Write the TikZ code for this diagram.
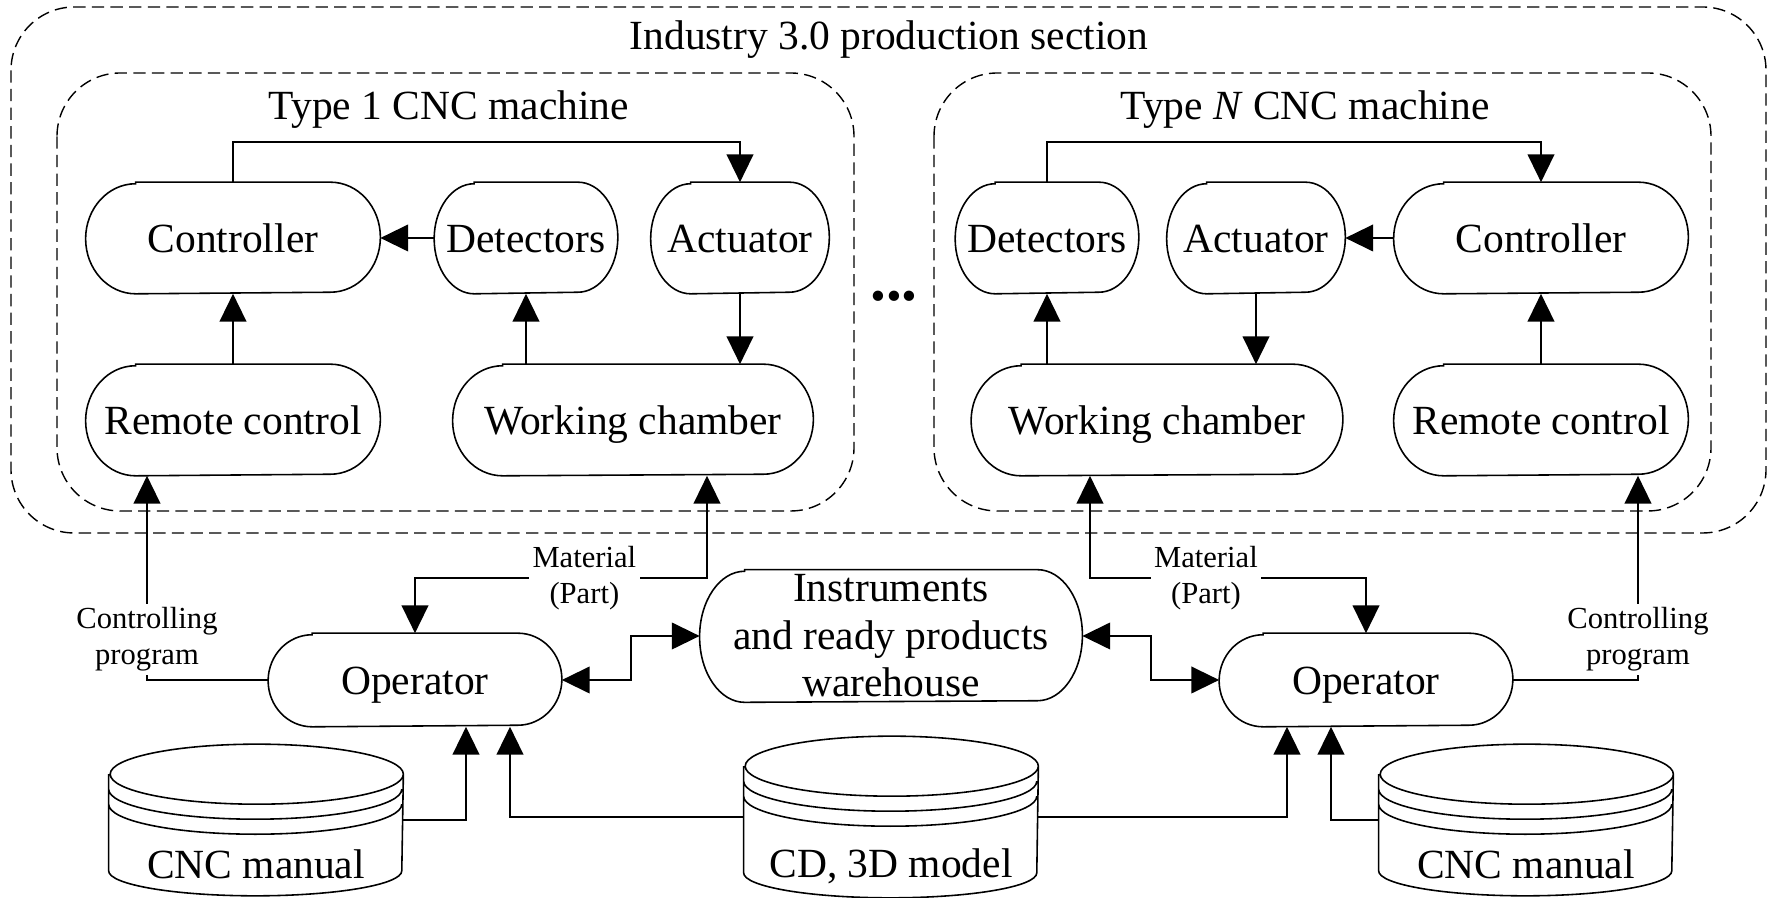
\documentclass[tikz,border=0pt]{standalone}
\usepackage{fontspec}
\setmainfont{Liberation Serif}
\usetikzlibrary{arrows.meta,calc}

\begin{document}
\begin{tikzpicture}[x=0.01cm,y=-0.01cm,line width=0.45pt,
    >={Triangle[length=7.9pt,width=7.6pt]},
    pill/.style={minimum height=1.1cm,inner sep=0pt,align=center,text height=8.1pt,text depth=0.1pt,font=\fontsize{11.8}{13.5}\selectfont},
    title/.style={inner sep=1pt,font=\fontsize{11.8}{13.5}\selectfont},
    small/.style={fill=white,inner sep=1pt,align=center,font=\fontsize{8.7}{10.2}\selectfont},
    disk/.style={minimum width=2.93cm,inner sep=0pt},
    frame/.style={draw,dash pattern=on 3.5pt off 1.8pt,rounded corners=18pt,line width=0.4pt}]
    \useasboundingbox (0,0) rectangle (1769,898);
    \draw[frame] (11,7) rectangle (1766,533);
    \draw[frame] (57,73) rectangle (854,511);
    \draw[frame] (934,73) rectangle (1711,511);
    \node[title] (sec) at (889,40) {Industry 3.0 production section};
    \node[title] (type1) at (449,110) {Type 1 CNC machine};
    \node[title] (typen) at (1305,110) {Type \textit{N} CNC machine};
    \node[inner sep=0pt,font=\fontsize{18}{18}\selectfont\bfseries] (dots) at (894,296) {...};

    \node[pill,minimum width=2.93cm] (ctl1) at (233,238) {Controller};
    \node[pill,minimum width=1.82cm] (det1) at (526,238) {Detectors};
    \node[pill,minimum width=1.77cm] (act1) at (740,238) {Actuator};
    \node[pill,minimum width=2.93cm] (rc1) at (233,420) {Remote control};
    \node[pill,minimum width=3.59cm] (wc1) at (633,420) {Working chamber};

    \node[pill,minimum width=1.82cm] (det2) at (1047,238) {Detectors};
    \node[pill,minimum width=1.77cm] (act2) at (1256,238) {Actuator};
    \node[pill,minimum width=2.93cm] (ctl2) at (1541,238) {Controller};
    \node[pill,minimum width=3.7cm] (wc2) at (1157,420) {Working chamber};
    \node[pill,minimum width=2.93cm] (rc2) at (1541,420) {Remote control};

    \node[pill,minimum width=2.92cm,minimum height=.92cm] (op1) at (415,680) {Operator};
    \node[pill,minimum width=2.92cm,minimum height=.92cm] (op2) at (1366,680) {Operator};
    \node[pill,minimum width=3.81cm,minimum height=1.31cm,text height=,text depth=] (wh) at (891,636) {Instruments\\and ready products\\warehouse};

    \foreach \n/\r/\a in {ctl1/.55/5,det1/.55/4,act1/.55/4,rc1/.55/5,wc1/.55/5,
        det2/.55/4,act2/.55/4,ctl2/.55/5,wc2/.55/5,rc2/.55/5,op1/.46/4.4,op2/.46/4.4,wh/.655/4.5}
        \draw ([xshift=\a mm]\n.north west) -- ([xshift=-\a mm]\n.north east)
            arc[start angle=90,end angle=-90,x radius=\a mm,y radius=\r cm]
            -- ([xshift=\a mm]\n.south west)
            arc[start angle=270,end angle=90,x radius=\a mm,y radius=\r cm] -- cycle;

    \node[disk,minimum height=1.5cm] (man1) at (256,820) {};
    \node[disk,minimum height=1.6cm] (cd) at (891,817) {};
    \node[disk,minimum height=1.5cm] (man2) at (1526,820) {};
    \foreach \c in {man1,cd,man2}
        \draw ([yshift=-.3cm]\c.north west) -- ([yshift=.25cm]\c.south west)
            arc[start angle=180,end angle=360,x radius=1.465cm,y radius=.25cm]
            -- ([yshift=-.3cm]\c.north east)
            arc[start angle=0,end angle=360,x radius=1.465cm,y radius=.3cm]
            ([yshift=-.45cm]\c.north west) arc[start angle=180,end angle=360,x radius=1.465cm,y radius=.3cm]
            ([yshift=-.6cm]\c.north west) arc[start angle=180,end angle=360,x radius=1.465cm,y radius=.3cm];
    \node[title] (man1t) at (256,864) {CNC manual};
    \node[title] (cdt) at (891,866) {CD, 3D model};
    \node[title] (man2t) at (1526,864) {CNC manual};

    \draw[->] (ctl1.north) -- ++(0,-40) -| (act1.north);
    \draw[->] (det1.west) -- (ctl1.east);
    \draw[->] (rc1.north) -- (ctl1.south);
    \draw[->] (wc1.north -| det1) -- (det1.south);
    \draw[->] (act1.south) -- (act1 |- wc1.north);

    \draw[->] (det2.north) -- ++(0,-40) -| (ctl2.north);
    \draw[->] (ctl2.west) -- (act2.east);
    \draw[->] (rc2.north) -- (ctl2.south);
    \draw[->] (wc2.north -| det2) -- (det2.south);
    \draw[->] (act2.south) -- (act2 |- wc2.north);

    \draw[->] (op1.west) -| node[small,pos=.6] (cp1) {Controlling\\program} ($(rc1.south)+(-86,0)$);
    \draw[->] (op2.east) -| node[small,pos=.6] (cp2) {Controlling\\program} ($(rc2.south)+(97,0)$);
    \draw[<->] ($(wc1.south)+(74,0)$) -- ++(0,102) -| node[small,pos=.21] (mat1) {Material\\(Part)} (op1.north);
    \draw[<->] ($(wc2.south)+(-67,0)$) -- ++(0,102) -| node[small,pos=.21] (mat2) {Material\\(Part)} (op2.north);
    \draw[<->] (op1.east) -| ($(op1.east)!.5!(wh.west)$) |- (wh.west);
    \draw[<->] (wh.east) -| ($(wh.east)!.5!(op2.west)$) |- (op2.west);
    \draw[->] (man1.east) -| ($(op1.south)+(51,0)$);
    \draw[->] (cd.west) -| ($(op1.south)+(95,0)$);
    \draw[->] (cd.east) -| ($(op2.south)+(-79,0)$);
    \draw[->] (man2.west) -| ($(op2.south)+(-35,0)$);
\end{tikzpicture}
\end{document}
